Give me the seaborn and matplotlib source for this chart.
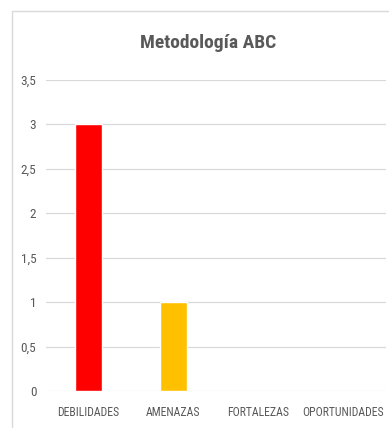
import matplotlib
matplotlib.use("Agg")
import matplotlib.pyplot as plt
from matplotlib import font_manager
from matplotlib.patches import Rectangle
import seaborn as sns
import pandas as pd

categories = ["DEBILIDADES", "AMENAZAS", "FORTALEZAS", "OPORTUNIDADES"]
values = [3, 1, 0, 0]
colors = ["#FF0000", "#FFC000", "#70AD47", "#4472C4"]
y_ticks = [0, 0.5, 1, 1.5, 2, 2.5, 3, 3.5]
y_tick_labels = ["0", "0,5", "1", "1,5", "2", "2,5", "3", "3,5"]
title = "Metodología ABC"

sns.set_theme(style="white")
names = {f.name for f in font_manager.fontManager.ttflist}
preferred = ["Liberation Sans Narrow", "Roboto Condensed", "Open Sans Condensed",
             "DejaVu Sans Condensed", "Liberation Sans"]
base = next((n for n in preferred if n in names), "DejaVu Sans")
plt.rcParams["font.family"] = [base, "DejaVu Sans"]

df = pd.DataFrame({"cat": categories, "val": values})

fig = plt.figure(figsize=(3.89, 4.28), dpi=100)
fig.patch.set_facecolor("white")

# chart frame
fig.add_artist(Rectangle((12 / 389, -0.05), 1.2, 1 - 11 / 428 + 0.05,
                         transform=fig.transFigure, fill=False,
                         edgecolor="#d9d9d9", linewidth=1.0))

ax = fig.add_axes([46 / 389, 1 - 391 / 428, 340 / 389, 311 / 428])
sns.barplot(data=df, x="cat", y="val", hue="cat", palette=colors,
            width=0.32, legend=False, ax=ax, saturation=1, zorder=3)

ax.set_ylim(0, 3.5)
ax.set_xlim(-0.5, 3.5)
ax.set_yticks(y_ticks)
ax.set_yticklabels(y_tick_labels)
ax.yaxis.grid(True, color="#d9d9d9", linewidth=0.9, zorder=0)
ax.set_axisbelow(True)
for s in ax.spines.values():
    s.set_visible(False)
ax.set_xlabel("")
ax.set_ylabel("")
narrow = base != "Liberation Sans" and base != "DejaVu Sans"
lab_size = 8.5 if narrow else 7.0
ax.tick_params(axis="y", length=0, pad=7, labelsize=lab_size + 1, labelcolor="#595959")
ax.tick_params(axis="x", length=0, pad=11, labelsize=lab_size, labelcolor="#595959")

fig.text(208 / 389, 1 - 43 / 428, title, ha="center", va="center",
         fontsize=14 if narrow else 12, fontweight="bold", color="#595959")

fig.savefig("out.png", dpi=100)
